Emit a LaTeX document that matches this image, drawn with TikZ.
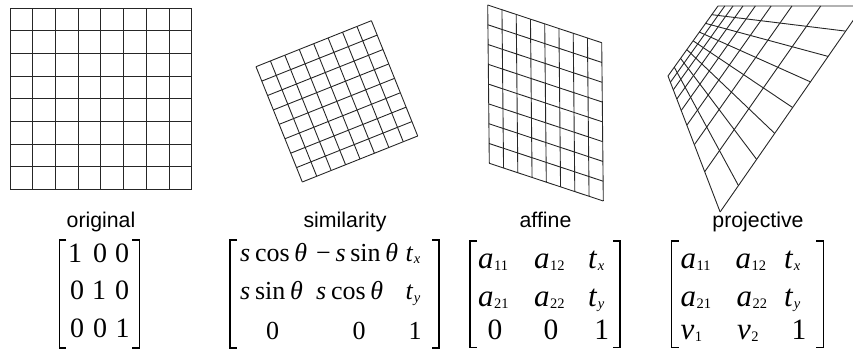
\documentclass[tikz,border=0pt]{standalone}
\usepackage{fontspec}
\setmainfont{Liberation Serif}
\newfontfamily\labelfont{Liberation Sans}
\usetikzlibrary{calc}
\newcommand\sub[1]{\raisebox{-0.08em}{\fontsize{14.5}{14.5}\selectfont\hspace{0.5pt}#1}}
\newcommand\vi[1]{\textit{#1}}
\newcommand\gp{\hspace{0.18em}}
\begin{document}
\begin{tikzpicture}[x=1pt,y=-1pt,
  gridline/.style={line width=0.9pt,draw=black!85},
  lbl/.style={font=\labelfont\fontsize{21.3}{21.3}\selectfont,anchor=base,inner sep=0pt},
  ent/.style={font=\fontsize{28}{28}\selectfont,anchor=base,inner sep=0pt},
  sent/.style={font=\fontsize{26}{26}\selectfont,anchor=base,inner sep=0pt},
  sentw/.style={sent,anchor=base west},
  bent/.style={font=\fontsize{29.5}{29.5}\selectfont,anchor=base,inner sep=0pt},
  bentw/.style={font=\fontsize{31}{31}\selectfont,anchor=base west,inner sep=0pt},
  brk/.style={line width=1.2pt,draw=black}]
\useasboundingbox (0,0) rectangle (853,352);
\clip (0,0) rectangle (853,352);
\newcommand\lingrid[4]{%
  \foreach \i in {0,...,8}{%
    \draw[gridline] ($(#1)!\i/8!(#4)$) -- ($(#2)!\i/8!(#3)$);
    \draw[gridline] ($(#1)!\i/8!(#2)$) -- ($(#4)!\i/8!(#3)$);
  }}
\newcommand\brackets[4]{% left x, right x, top, bottom
  \draw[brk] (#1+7,#3) -- (#1,#3) -- (#1,#4) -- (#1+7,#4);
  \draw[brk] (#2-7,#3) -- (#2,#3) -- (#2,#4) -- (#2-7,#4);}
% original grid
\coordinate (oTL) at (10,8.3);
\coordinate (oTR) at (191.7,8.3);
\coordinate (oBR) at (191.7,189.3);
\coordinate (oBL) at (10,189.3);
\lingrid{oTL}{oTR}{oBR}{oBL}
% similarity grid
\coordinate (sTL) at (256,66.7);
\coordinate (sTR) at (371.4,20.7);
\coordinate (sBR) at (417.7,136);
\coordinate (sBL) at (302.3,182);
\lingrid{sTL}{sTR}{sBR}{sBL}
% affine grid
\coordinate (aTL) at (487.7,5);
\coordinate (aTR) at (601.7,42.7);
\coordinate (aBR) at (603.3,201);
\coordinate (aBL) at (489.3,163.3);
\lingrid{aTL}{aTR}{aBR}{aBL}
% projective grid (homography of the unit square)
\foreach \i in {0,...,8}{%
  \pgfmathsetmacro\u{\i/8}
  \draw[gridline] ({(-419.2*\u+718)/(1-0.6538*\u)},{(-3.923*\u+6)/(1-0.6538*\u)})
    -- ({(-419.2*\u-56.42+718)/(1-0.6538*\u-0.009615)},{(-3.923*\u+69.27+6)/(1-0.6538*\u-0.009615)});
  \draw[gridline] ({(-56.42*\u+718)/(1-0.009615*\u)},{(69.27*\u+6)/(1-0.009615*\u)})
    -- ({(-419.2-56.42*\u+718)/(1-0.6538-0.009615*\u)},{(-3.923+69.27*\u+6)/(1-0.6538-0.009615*\u)});
}
% labels
\node[lbl] (lo) at (101,228) {original};
\node[lbl] (ls) at (345,228) {similarity};
\node[lbl] (la) at (545.5,228) {affine};
\node[lbl] (lp) at (758,228) {projective};
% original matrix
\brackets{59.3}{139.3}{240}{348}
\node[ent] (o11) at (75,262.7) {1};
\node[ent] (o12) at (100,262.7) {0};
\node[ent] (o13) at (122,262.7) {0};
\node[ent] (o21) at (77,300) {0};
\node[ent] (o22) at (99,300) {1};
\node[ent] (o23) at (122,300) {0};
\node[ent] (o31) at (77,337.5) {0};
\node[ent] (o32) at (100,337.5) {0};
\node[ent] (o33) at (122.5,337.5) {1};
% similarity matrix
\brackets{230}{439}{240}{348}
\node[sentw] (s11) at (240,261.7) {\vi{s}\gp cos\gp\vi{θ}};
\node[sentw] (s12) at (316,261.7) {−\gp\vi{s}\gp sin\gp\vi{θ}};
\node[sentw] (s13) at (405.5,261.7) {\vi{t}\sub{\vi{x}}};
\node[sentw] (s21) at (240,300) {\vi{s}\gp sin\gp\vi{θ}};
\node[sentw] (s22) at (316,300) {\vi{s}\gp cos\gp\vi{θ}};
\node[sentw] (s23) at (405.5,300) {\vi{t}\sub{\vi{y}}};
\node[sent] (s31) at (272.5,339.3) {0};
\node[sent] (s32) at (359,339.3) {0};
\node[sent] (s33) at (415,339.3) {1};
% affine matrix
\brackets{470}{620}{241}{347.7}
\node[bentw] (a11) at (478,268.5) {\vi{a}\sub{11}};
\node[bentw] (a12) at (534,268.5) {\vi{a}\sub{12}};
\node[bentw] (a13) at (588,268.5) {\vi{t}\sub{\vi{x}}};
\node[bentw] (a21) at (478,306) {\vi{a}\sub{21}};
\node[bentw] (a22) at (534,306) {\vi{a}\sub{22}};
\node[bentw] (a23) at (588,306) {\vi{t}\sub{\vi{y}}};
\node[bent] (a31) at (495,339.3) {0};
\node[bent] (a32) at (551,339.3) {0};
\node[bent] (a33) at (601.7,339.3) {1};
% projective matrix
\brackets{671.7}{823.3}{241}{347.7}
\node[bentw] (p11) at (680.5,268.5) {\vi{a}\sub{11}};
\node[bentw] (p12) at (735.5,268.5) {\vi{a}\sub{12}};
\node[bentw] (p13) at (784,268.5) {\vi{t}\sub{\vi{x}}};
\node[bentw] (p21) at (680.5,306) {\vi{a}\sub{21}};
\node[bentw] (p22) at (736.5,306) {\vi{a}\sub{22}};
\node[bentw] (p23) at (784,306) {\vi{t}\sub{\vi{y}}};
\node[bentw] (p31) at (680.5,339.3) {\vi{v}\sub{1}};
\node[bentw] (p32) at (737,339.3) {\vi{v}\sub{2}};
\node[bent] (p33) at (799,339.3) {1};
\end{tikzpicture}
\end{document}
